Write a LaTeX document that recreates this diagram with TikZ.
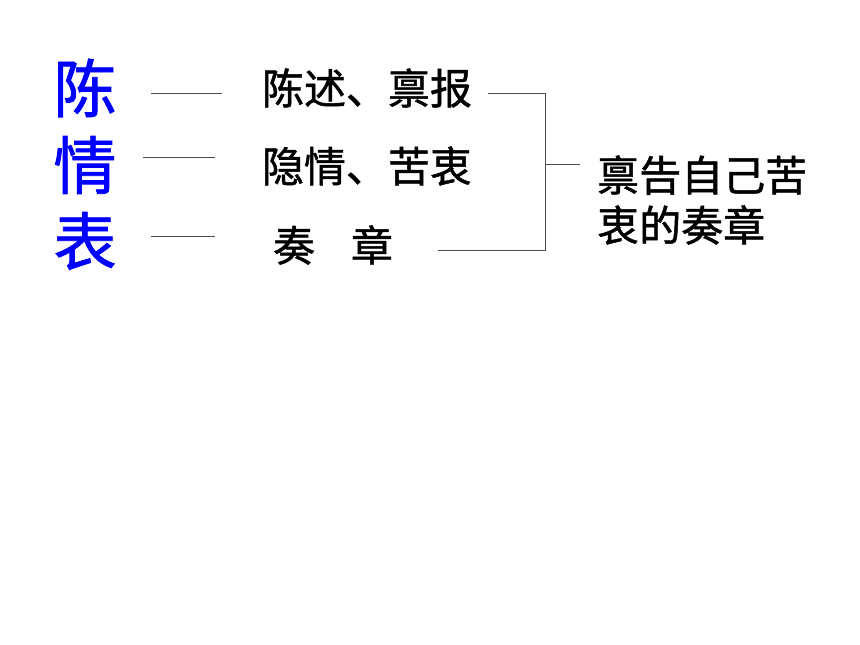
\documentclass[tikz,border=0pt]{standalone}
\usepackage{fontspec}
\newfontfamily\cjk[FakeBold=1.2]{Noto Sans CJK SC}
\tikzset{
  big/.style={font=\cjk\fontsize{63}{63}\selectfont, text=blue, inner sep=0pt, anchor=center},
  txt/.style={font=\cjk\fontsize{42}{50}\selectfont, text=black, inner sep=0pt, anchor=center},
  ln/.style={draw=black!70, line width=0.9pt}
}
\begin{document}
\begin{tikzpicture}[x=1pt,y=-1pt]
\useasboundingbox (0,0) rectangle (860,645);
\node[big] (c1) at (85,88) {陈};
\node[big] (c2) at (85,165) {情};
\node[big] (c3) at (85,241) {表};
\node[txt] (t1) at (367,88) {陈述、禀报};
\node[txt] (t2) at (367,166) {隐情、苦衷};
\node[txt] (t3) at (333,245) {奏\hspace{36pt}章};
\node[txt, align=left, anchor=west] (r) at (597,200) {禀告自己苦\\衷的奏章};
\coordinate (a1) at (151,93); \coordinate (b1) at (222,93);
\coordinate (a2) at (143,157); \coordinate (b2) at (215,157);
\coordinate (a3) at (151,236); \coordinate (b3) at (215,236);
\coordinate (k1) at (488,93); \coordinate (k3) at (438,250);
\coordinate (v1) at (545,93); \coordinate (v3) at (545,250);
\coordinate (vm) at (545,164); \coordinate (m) at (580,164);
\draw[ln] (a1) -- (b1);
\draw[ln] (a2) -- (b2);
\draw[ln] (a3) -- (b3);
\draw[ln] (k1) -- (v1) -- (v3) -- (k3);
\draw[ln] (vm) -- (m);
\end{tikzpicture}
\end{document}
